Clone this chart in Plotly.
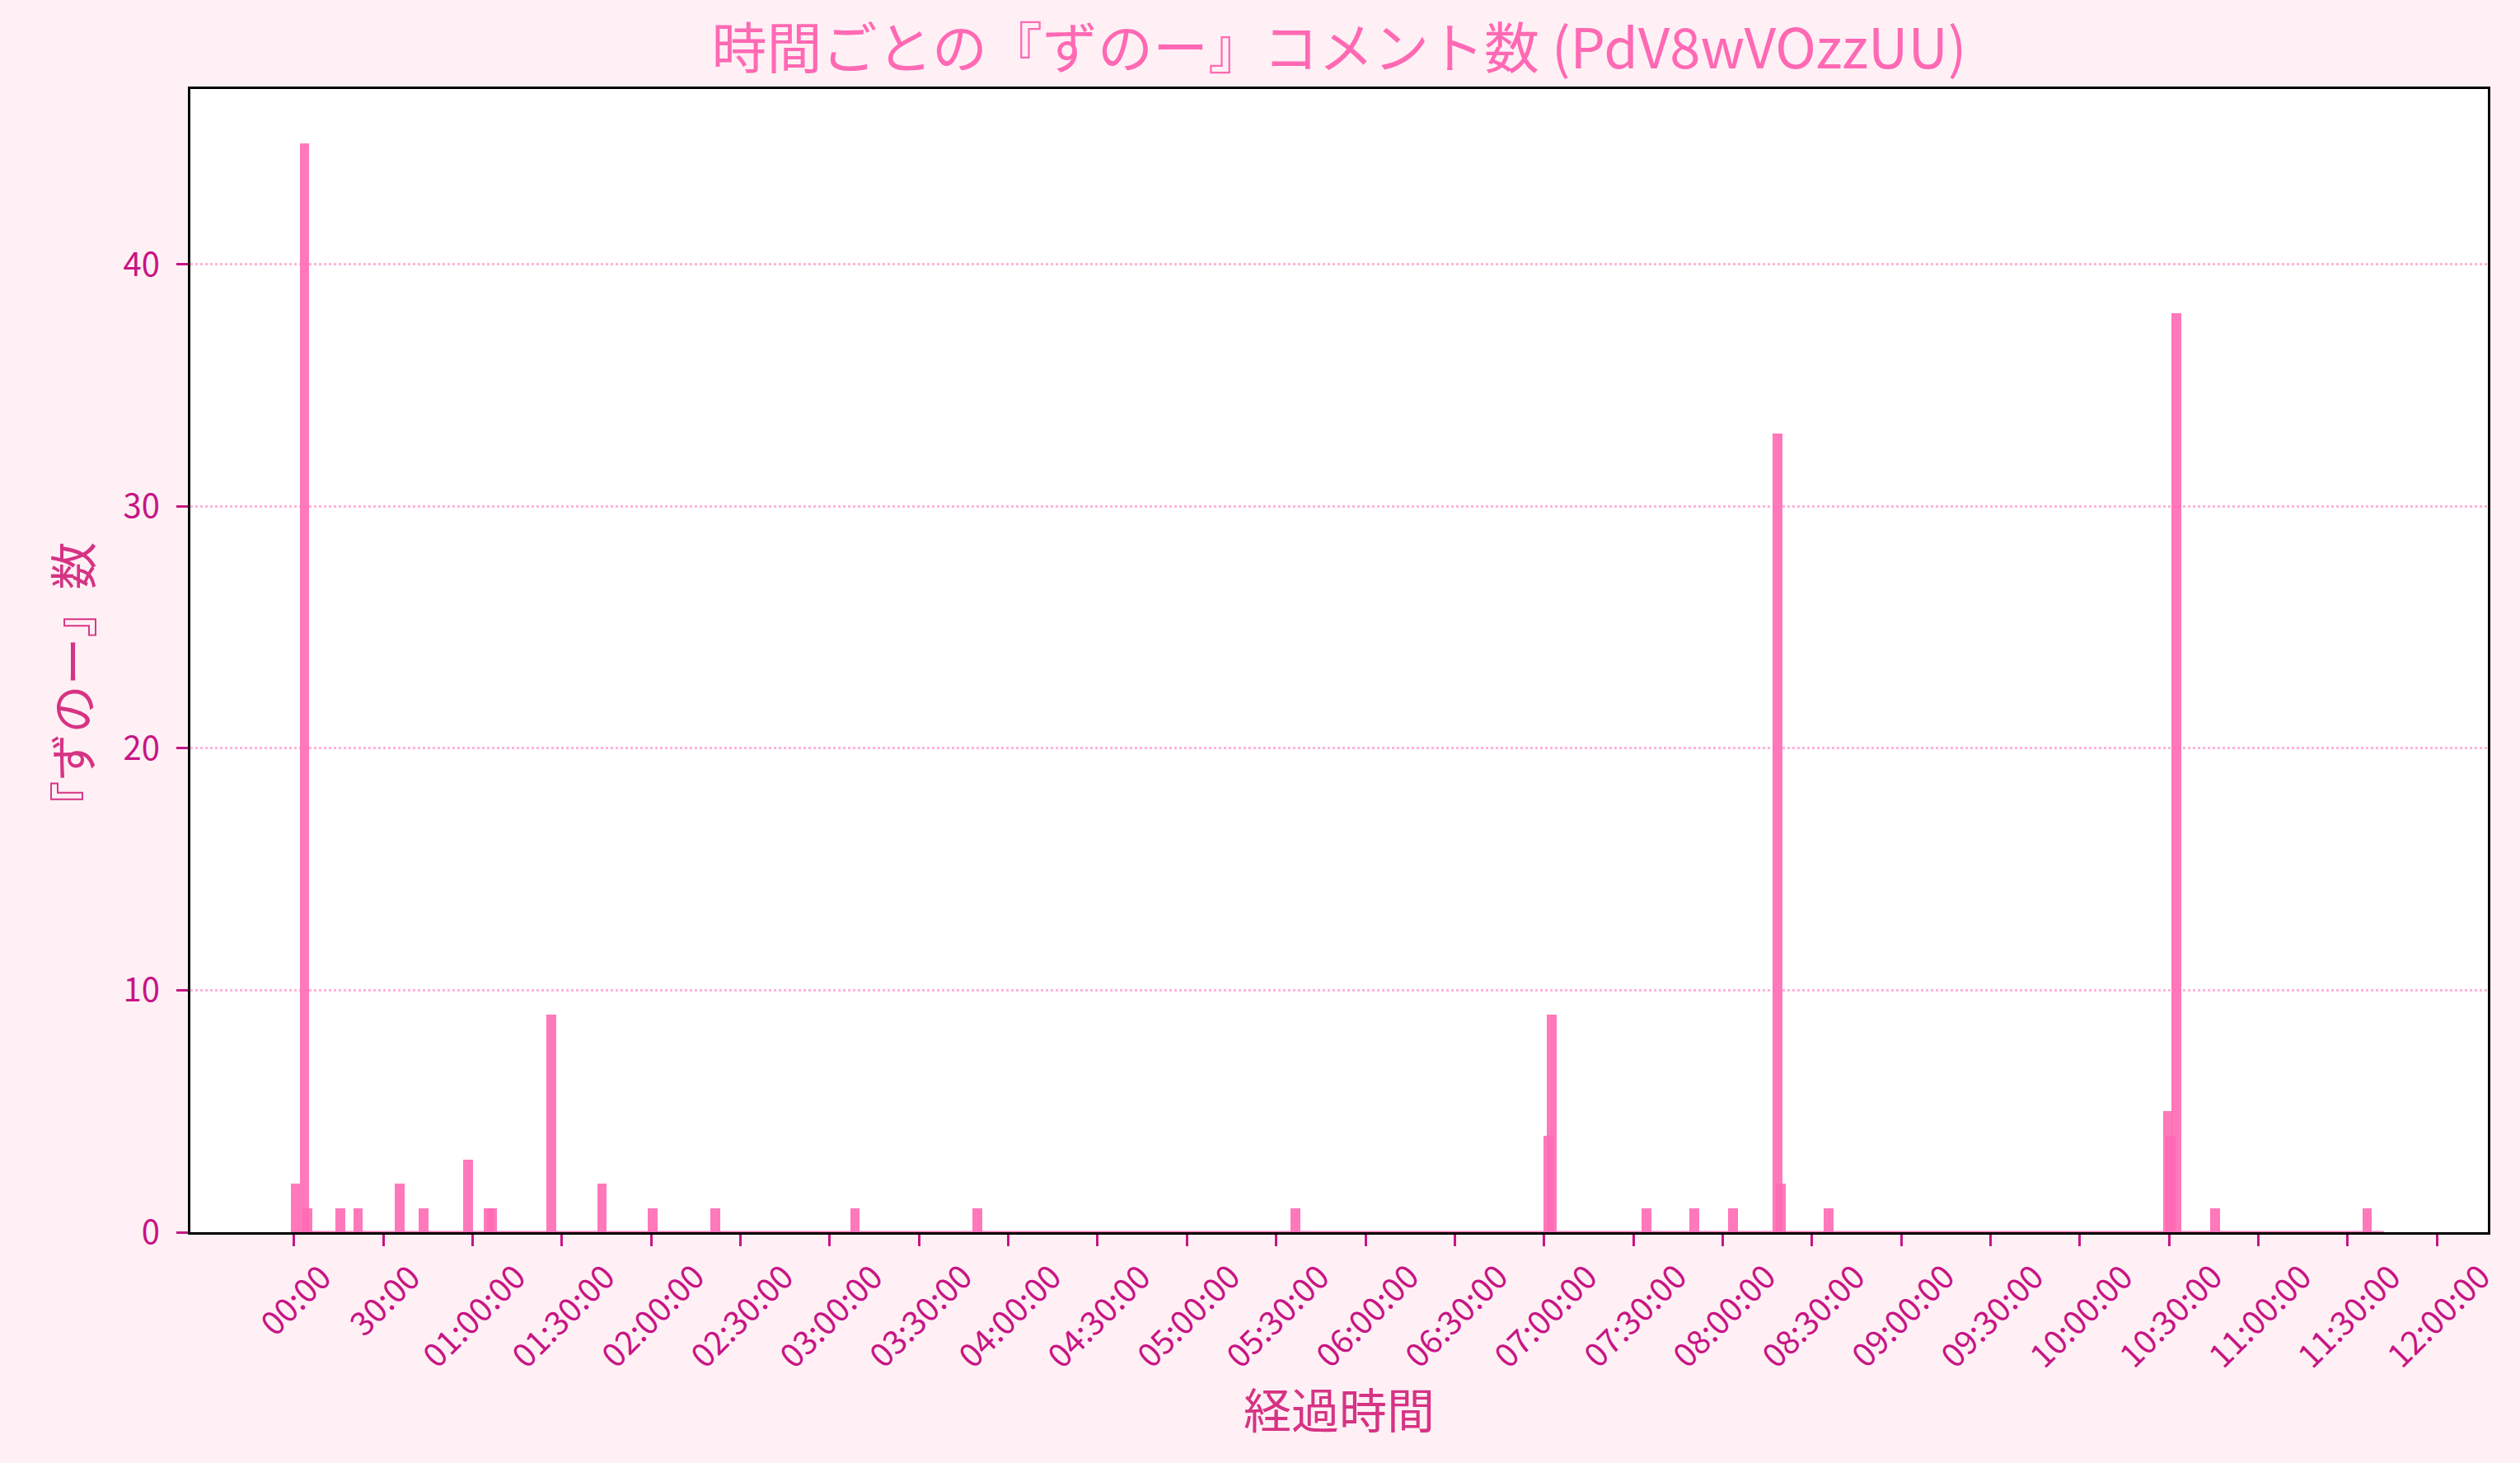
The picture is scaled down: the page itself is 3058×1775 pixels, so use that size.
import plotly.graph_objects as go

# ---- data (minute bins since stream start, comment counts per minute) ----
MINUTES = [0, 3, 4, 15, 21, 35, 43, 58, 65, 66, 86, 103, 120, 141, 188, 229, 336,
           421, 422, 454, 470, 483, 498, 499, 515, 629, 630, 632, 645, 696]
COUNTS = [2, 45, 1, 1, 1, 2, 1, 3, 1, 1, 9, 2, 1, 1, 1, 1, 1,
          4, 9, 1, 1, 1, 33, 2, 1, 5, 4, 38, 1, 1]
FIRST_MINUTE = 0
LAST_MINUTE = 700
TICK_SECONDS = list(range(0, 12 * 3600 + 1, 1800))
Y_TICKS = [0, 10, 20, 30, 40]

TITLE = "時間ごとの『ずのー』コメント数 (PdV8wVOzzUU)"
X_LABEL = "経過時間"
Y_LABEL = "『ずのー』数"


def fmt(sec):
    h, rem = divmod(int(sec), 3600)
    m, s = divmod(rem, 60)
    if h == 0:
        return f"{m:02d}:{s:02d}"
    return f"{h:02d}:{m:02d}:{s:02d}"


TICK_LABELS = [fmt(s) for s in TICK_SECONDS]

FONT = "Noto Sans CJK JP"
BAR_W = 195
centers = [m * 60 + 30 for m in MINUTES]
bar_color = "rgba(255,105,180,0.9)"
tick_color = "#C71585"
label_color = "#D63384"

fig = go.Figure()
fig.add_trace(go.Bar(
    x=centers, y=COUNTS, width=[BAR_W] * len(centers),
    marker=dict(color=bar_color, line=dict(width=0)),
    showlegend=False, hoverinfo="x+y",
))
fig.add_trace(go.Scatter(
    x=[FIRST_MINUTE * 60 + 30 - BAR_W / 2, LAST_MINUTE * 60 + 30 + BAR_W / 2],
    y=[0, 0], mode="lines",
    line=dict(color=bar_color, width=3), showlegend=False, hoverinfo="skip",
))

annotations = []
for s, lab in zip(TICK_SECONDS, TICK_LABELS):
    annotations.append(dict(
        x=s, y=0, xref="x", yref="paper", text=lab, showarrow=False,
        textangle=-45, xanchor="center", yanchor="top", yshift=-22,
        font=dict(family=FONT, size=40, color=tick_color),
    ))
# y-axis title
annotations.append(dict(
    x=0, y=0.5, xref="paper", yref="paper", text=Y_LABEL, showarrow=False,
    textangle=-90, xanchor="center", yanchor="middle", xshift=-146, yshift=-30,
    font=dict(family=FONT, size=58, color=label_color),
))

fig.update_layout(
    width=3058, height=1775,
    paper_bgcolor="#FFF0F5", plot_bgcolor="white",
    margin=dict(l=231, r=39, t=108, b=280),
    font=dict(family=FONT),
    title=dict(text=TITLE, x=(231 + 3019) / 2 / 3058, xanchor="center",
               y=1 - 60 / 1775, yanchor="middle", yref="container",
               font=dict(family=FONT, size=67, color="#FF69B4")),
    bargap=0, barmode="overlay",
    annotations=annotations,
    xaxis=dict(
        range=[-2089, 44225], tickvals=TICK_SECONDS, showticklabels=False,
        ticks="outside", ticklen=14, tickwidth=3, tickcolor=tick_color,
        showline=True, linecolor="black", linewidth=3, mirror=True,
        showgrid=False, zeroline=False,
        title=dict(text=X_LABEL, standoff=182,
                   font=dict(family=FONT, size=58, color=label_color)),
    ),
    yaxis=dict(
        range=[0, max(COUNTS) * 1.05], tickvals=Y_TICKS,
        ticks="outside", ticklen=14, tickwidth=3, tickcolor=tick_color,
        tickfont=dict(family=FONT, size=40, color=tick_color),
        ticklabelstandoff=12,
        showline=True, linecolor="black", linewidth=3, mirror=True,
        showgrid=True, gridcolor="rgba(255,105,180,0.5)", griddash="dot",
        gridwidth=2.5, zeroline=False,
    ),
)

fig.write_html(
    "out.html",
    config={"displayModeBar": False},
    post_script="document.body.style.margin='0';document.body.style.overflow='hidden';",
)
